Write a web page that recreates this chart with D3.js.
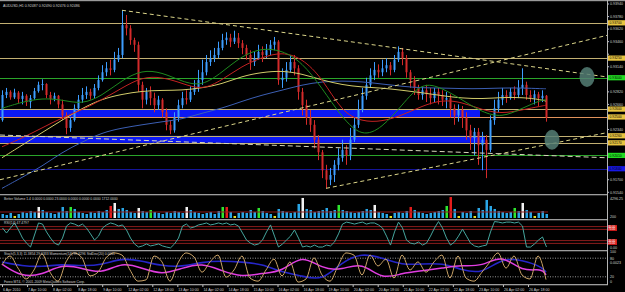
<!DOCTYPE html>
<html lang="en">
<head>
<meta charset="UTF-8">
<title>AUDUSD,H1</title>
<script src="https://d3js.org/d3.v7.min.js"></script>
<style>
  body { margin: 0; background: #000; }
  svg { display: block; font-family: "Liberation Sans", Arial, sans-serif; }
  .lbl { font-size: 3.6px; fill: #cfcfcf; }
  .small { font-size: 3.4px; fill: #cfcfcf; }
  .tag { font-size: 3.4px; fill: #000; }
</style>
</head>
<body>
<svg width="625" height="292"></svg>
<script>
// ---- data ----
const title = "AUDUSD,H1  0.92487 0.92490 0.92476 0.92486";
const firstOpen = 0.9246;
const close = [
  0.9278,0.9282,0.9275,0.9281,0.9273,0.9277,0.9269,0.9274,0.9283,0.9291,
  0.9292,0.9278,0.9273,0.9277,0.9266,0.9252,0.9236,0.9246,0.9261,0.9272,
  0.9278,0.9282,0.9277,0.9287,0.9297,0.9307,0.9312,0.9310,0.9323,0.9329,
  0.9367,0.9363,0.9348,0.9342,0.9291,0.9272,0.9282,0.9274,0.9265,0.9272,
  0.9256,0.9240,0.9233,0.9249,0.9265,0.9274,0.9272,0.9282,0.9287,0.9297,
  0.9307,0.9320,0.9325,0.9329,0.9338,0.9348,0.9351,0.9346,0.9351,0.9344,
  0.9338,0.9329,0.9320,0.9325,0.9333,0.9329,0.9335,0.9342,0.9346,0.9297,
  0.9300,0.9310,0.9320,0.9312,0.9282,0.9265,0.9249,0.9240,0.9221,0.9205,
  0.9182,0.9170,0.9176,0.9189,0.9198,0.9208,0.9201,0.9221,0.9240,0.9259,
  0.9277,0.9291,0.9303,0.9310,0.9307,0.9312,0.9316,0.9310,0.9323,0.9333,
  0.9325,0.9307,0.9297,0.9287,0.9278,0.9284,0.9279,0.9274,0.9282,0.9278,
  0.9272,0.9274,0.9261,0.9252,0.9259,0.9249,0.9233,0.9223,0.9231,0.9214,
  0.9221,0.9208,0.9246,0.9261,0.9272,0.9278,0.9274,0.9282,0.9278,0.9287,
  0.9291,0.9278,0.9274,0.9279,0.9274,0.9277,0.9249
];
const high = [
  0.9284,0.9287,0.9284,0.9286,0.9283,0.9282,0.9279,0.9278,0.9287,0.9295,
  0.9298,0.9293,0.9282,0.9281,0.9278,0.9272,0.9256,0.9250,0.9266,0.9278,
  0.9287,0.9289,0.9286,0.9292,0.9303,0.9316,0.9320,0.9323,0.9333,0.9338,
  0.9386,0.9380,0.9367,0.9351,0.9346,0.9295,0.9287,0.9289,0.9281,0.9277,
  0.9274,0.9261,0.9246,0.9256,0.9272,0.9282,0.9284,0.9289,0.9297,0.9310,
  0.9323,0.9329,0.9335,0.9338,0.9346,0.9356,0.9358,0.9356,0.9360,0.9357,
  0.9348,0.9342,0.9335,0.9333,0.9342,0.9340,0.9343,0.9348,0.9352,0.9348,
  0.9312,0.9320,0.9329,0.9329,0.9316,0.9287,0.9272,0.9259,0.9246,0.9227,
  0.9208,0.9189,0.9185,0.9195,0.9210,0.9221,0.9214,0.9236,0.9249,0.9272,
  0.9287,0.9300,0.9312,0.9320,0.9317,0.9323,0.9325,0.9320,0.9329,0.9340,
  0.9338,0.9329,0.9310,0.9302,0.9291,0.9289,0.9291,0.9287,0.9287,0.9287,
  0.9284,0.9282,0.9279,0.9266,0.9266,0.9264,0.9256,0.9240,0.9236,0.9236,
  0.9231,0.9227,0.9252,0.9272,0.9282,0.9287,0.9284,0.9287,0.9289,0.9297,
  0.9312,0.9295,0.9284,0.9284,0.9282,0.9284,0.9278
];
const low = [
  0.9244,0.9274,0.9272,0.9273,0.9268,0.9266,0.9264,0.9261,0.9272,0.9281,
  0.9284,0.9274,0.9266,0.9270,0.9261,0.9246,0.9228,0.9231,0.9244,0.9259,
  0.9268,0.9273,0.9272,0.9274,0.9284,0.9295,0.9302,0.9303,0.9307,0.9320,
  0.9325,0.9354,0.9342,0.9333,0.9282,0.9261,0.9266,0.9265,0.9256,0.9259,
  0.9249,0.9233,0.9228,0.9230,0.9244,0.9261,0.9266,0.9269,0.9278,0.9282,
  0.9291,0.9303,0.9315,0.9320,0.9325,0.9335,0.9342,0.9339,0.9343,0.9338,
  0.9330,0.9323,0.9310,0.9315,0.9323,0.9320,0.9325,0.9329,0.9335,0.9291,
  0.9287,0.9295,0.9307,0.9303,0.9272,0.9252,0.9240,0.9231,0.9210,0.9195,
  0.9172,0.9159,0.9163,0.9167,0.9182,0.9193,0.9189,0.9195,0.9218,0.9236,
  0.9256,0.9272,0.9287,0.9297,0.9300,0.9302,0.9307,0.9303,0.9307,0.9320,
  0.9316,0.9300,0.9287,0.9278,0.9272,0.9272,0.9269,0.9266,0.9269,0.9266,
  0.9264,0.9261,0.9249,0.9240,0.9244,0.9236,0.9221,0.9208,0.9201,0.9189,
  0.9182,0.9172,0.9205,0.9240,0.9256,0.9265,0.9268,0.9272,0.9272,0.9274,
  0.9278,0.9272,0.9269,0.9266,0.9264,0.9269,0.9244
];

// moving averages, read every 5th bar
const maBars   = [0,5,10,15,20,25,30,35,40,45,50,55,60,65,70,75,80,85,90,95,100,105,110,115,120,125,130,135,136];
const maYellow = [0.9198,0.9214,0.9230,0.9246,0.9261,0.9273,0.9279,0.9283,0.9284,0.9284,0.9287,0.9292,0.9302,0.9307,0.9309,0.9305,0.9297,0.9291,0.9288,0.9287,0.9284,0.9281,0.9277,0.9274,0.9273,0.9275,0.9275,0.9272,0.9270];
const maBlue   = [0.9159,0.9173,0.9187,0.9205,0.9218,0.9230,0.9236,0.9240,0.9244,0.9247,0.9255,0.9261,0.9270,0.9278,0.9284,0.9291,0.9295,0.9296,0.9295,0.9292,0.9289,0.9287,0.9287,0.9286,0.9286,0.9287,0.9287,0.9286,0.9286];
const maGreen  = [0.9261,0.9269,0.9274,0.9272,0.9266,0.9277,0.9297,0.9310,0.9307,0.9295,0.9289,0.9307,0.9328,0.9338,0.9335,0.9320,0.9287,0.9249,0.9224,0.9236,0.9265,0.9295,0.9287,0.9272,0.9256,0.9249,0.9261,0.9272,0.9272];
const maRed    = [0.9212,0.9223,0.9236,0.9249,0.9259,0.9272,0.9287,0.9301,0.9301,0.9293,0.9284,0.9297,0.9315,0.9326,0.9333,0.9325,0.9300,0.9256,0.9244,0.9244,0.9252,0.9264,0.9272,0.9269,0.9259,0.9254,0.9259,0.9264,0.9265];

// drawn objects: trendlines [bar, price] -> [bar, price]
const trendLines = [
  [[30, 0.9386], [151.25, 0.9301]],
  [[-0.5, 0.9170], [151.25, 0.9354]],
  [[81, 0.9159], [151.25, 0.9230]]
];
const flatLine = [[-0.5, 0.9227], [151.25, 0.9198]];
const levelPrices = [0.9370, 0.9325, 0.9300, 0.9260, 0.9250, 0.9226, 0.9217, 0.9201, 0.9184];
const levelKinds  = ["sr", "sr", "pivot", "sr", "bid", "sr", "sr", "pivot", "deep"];
const bands = [[0.9260, 0.9250, 119.5], [0.9226, 0.9217, 120.75]];
const circles = [[146.25, 0.9301], [137.5, 0.9221]];
const priceTicks = [0.9394,0.9378,0.9362,0.9346,0.9330,0.9314,0.9298,0.9282,0.9266,0.9250,0.9234,0.9218,0.9202,0.9186,0.9170,0.9154];
const timeLabels = ["6 Apr 2010","7 Apr 10:00","8 Apr 02:00","8 Apr 18:00","9 Apr 10:00","12 Apr 02:00","12 Apr 18:00","13 Apr 10:00",
  "14 Apr 02:00","14 Apr 18:00","15 Apr 10:00","16 Apr 02:00","16 Apr 18:00","19 Apr 10:00","20 Apr 02:00","20 Apr 18:00",
  "21 Apr 10:00","22 Apr 02:00","22 Apr 18:00","23 Apr 10:00","26 Apr 02:00","26 Apr 18:00"];

// Better Volume
const volText = "Better Volume 1.4 0.0000 0.0000 23.0000 0.0000 0.0000 0.0000 1712.0000";
const volume = [
  820,615,1025,410,820,1230,1025,1435,1230,2255,
  1640,1230,1025,820,1230,2255,1435,2255,1845,1230,
  1025,820,1230,1025,1435,1230,1640,2460,3075,1845,
  2050,1640,1230,1025,2050,1435,1230,1640,1230,1025,
  820,1230,1025,1435,1230,1025,2255,1640,1230,1025,
  820,1025,1230,820,1435,2255,2255,1230,410,1025,
  1230,1025,1640,1230,2050,1435,1025,820,410,1845,
  1435,1230,1025,1230,2870,4100,1845,1640,1230,1435,
  1640,2050,1435,1640,2665,1640,1435,1230,1025,1230,
  1435,1845,1640,2665,1230,1025,820,410,1025,1230,
  1025,1435,2255,1640,1230,1025,820,1025,1230,1435,
  1640,2460,4290,1845,410,1230,1025,1435,410,2050,
  1640,3690,2460,1845,1435,1230,1025,1230,2050,1435,
  3075,1640,1230,410,1025,1435,820
];
const volType = "bbbybbbbbw" + "bbbbbbbgbb" + "bbbbbbbrwb" + "bbbbwbbgbb" + "bbbbbbwbbb" +
  "bbbbbgrbyb" + "bbbbgbbbyb" + "bbbbbwbbbb" + "bbbbgbbbbb" + "bbbwbbbybb" +
  "bbrbbbbbbb" + "bgrbybbbyb" + "bbbbbbbbgb" + "wbbybbb";
const volAverage = 1230;
const volAxis = ["4296.25", "200"];

// RSI
const rsiText = "RSI(14) 47.4797";
const rsi = [
  75,57,75,93,68,39,21,7,50,93,
  89,61,39,21,14,39,82,93,89,82,
  89,75,54,32,46,75,86,93,89,82,
  86,68,39,18,7,11,18,11,14,18,
  11,7,4,18,39,82,89,75,79,86,
  89,93,86,89,93,89,93,86,89,82,
  57,32,21,14,18,32,61,86,46,7,
  18,32,46,68,39,7,11,7,14,7,
  7,14,11,25,54,89,96,93,89,93,
  96,89,93,93,86,75,46,14,61,96,
  75,32,21,18,25,14,21,46,75,98,
  75,39,14,25,46,71,46,21,11,7,
  11,14,61,98,96,93,96,96,93,96,
  82,7,7,18,32,43,7
];
const rsiLevels = [80, 70, 30, 20];

// Stochastic / momentum pane
const stoText = "Stoch(5,3,3) 11.3854 29.6333   Momentum(14) 99.6296   StdDev(20) 0.0011";
const stochMain = [58,87,48,13,42,94,35,6,68,97,81,23,35,81,97,90,42,6,10,87,68,6,65,97,84,35,68,90,19,42,
  87,16,6,42,77,23,68,3,13,81,26,6,55,97,90,26,90,55,77,16,90,42,68,35,68,90,16,87,16,6,35,68,97,48,87,26,13,87,11];
const momentum = [68,55,52,61,55,58,81,71,55,52,68,71,68,61,35,23,6,68,97,81,58,61,65,42,29,81,74,52,35];
const stdDev   = [61,19,26,61,48,29,68,48,26,48,65,39,19,32,35,94,45,42,68,10,32,39,48,58,52,94,35,48,26];
const stoLevels = [80, 20];
const stoAxis = [["100", 100], ["80", 80], ["0.0023", 66], ["20", 20], ["0", 3]];
const copyright = "Forex MT4, \u00a9 2001-2009 MetaQuotes Software Corp.";

// ---- drawing ----
const svg = d3.select("svg");
const plotRight = 607;
const x = d3.scaleLinear().domain([0, 136]).range([2, 546]);
const yPrice = d3.scaleLinear().domain([0.91518, 0.93940]).range([194, 4]);
const yVol = d3.scaleLinear().domain([0, 4296.25]).range([218, 197]);
const yRsi = d3.scaleLinear().domain([0, 100]).range([249, 221]);
const ySto = d3.scaleLinear().domain([0, 100]).range([283, 252]);
const xTime = d3.scalePoint().domain(timeLabels).range([2, 528]);
const fmt5 = d3.format(".5f");

svg.append("rect").attr("width", 625).attr("height", 292).attr("fill", "#000");

const defs = svg.append("defs");
defs.append("clipPath").attr("id", "mainClip")
  .append("rect").attr("x", 0).attr("y", 2).attr("width", plotRight).attr("height", 192);

const main = svg.append("g").attr("clip-path", "url(#mainClip)");

// blue zones
main.selectAll(".band").data(bands).join("rect")
  .attr("x", x(0) - 2)
  .attr("y", d => yPrice(d[0]))
  .attr("width", d => x(d[2]) - x(0) + 2)
  .attr("height", d => yPrice(d[1]) - yPrice(d[0]))
  .attr("fill", "#0c18f5");

// horizontal levels
const levelColor = { sr: "#c2b072", pivot: "#2aa52a", bid: "#e0925c", deep: "#15159a" };
main.selectAll(".level").data(levelPrices).join("line")
  .attr("x1", 0).attr("x2", plotRight)
  .attr("y1", d => Math.round(yPrice(d)) + 0.5)
  .attr("y2", d => Math.round(yPrice(d)) + 0.5)
  .attr("stroke", (d, i) => levelColor[levelKinds[i]])
  .attr("stroke-width", 1);

// candles
const bars = close.map((c, i) => {
  const o = i === 0 ? firstOpen : close[i - 1];
  return { i, c, o, h: Math.max(high[i], c, o), l: Math.min(low[i], c, o) };
});
const candle = main.selectAll(".candle").data(bars).join("g")
  .attr("stroke", d => d.c >= d.o ? "#3d9dff" : "#d42a2a")
  .attr("fill", d => d.c >= d.o ? "#3d9dff" : "#d42a2a");
candle.append("line")
  .attr("x1", d => x(d.i) + 0.5).attr("x2", d => x(d.i) + 0.5)
  .attr("y1", d => yPrice(d.h)).attr("y2", d => yPrice(d.l))
  .attr("stroke-width", 1);
candle.append("rect")
  .attr("x", d => x(d.i) - 0.5).attr("width", 2)
  .attr("y", d => yPrice(Math.max(d.o, d.c)))
  .attr("height", d => Math.max(1, Math.abs(yPrice(d.o) - yPrice(d.c))))
  .attr("stroke", "none");

// moving averages
const maLine = d3.line().x((d, k) => x(maBars[k])).y(d => yPrice(d)).curve(d3.curveBasis);
[[maBlue, "#3c5fb4"], [maYellow, "#d2cc6a"], [maRed, "#c42222"], [maGreen, "#1f8a1f"]].forEach(([s, col]) => {
  main.append("path").datum(s).attr("d", maLine)
    .attr("fill", "none").attr("stroke", col).attr("stroke-width", 1);
});

// trendlines
const tl = d3.line().x(d => x(d[0])).y(d => yPrice(d[1]));
main.selectAll(".trend").data(trendLines).join("path")
  .attr("d", tl).attr("fill", "none")
  .attr("stroke", "#dcd68a").attr("stroke-width", 1).attr("stroke-dasharray", "4,3");
main.append("path").datum(flatLine).attr("d", tl).attr("fill", "none")
  .attr("stroke", "#d8d8bc").attr("stroke-width", 1).attr("stroke-dasharray", "5,3");

// circled spots
main.selectAll(".spot").data(circles).join("ellipse")
  .attr("cx", d => x(d[0])).attr("cy", d => yPrice(d[1]))
  .attr("rx", 7.5).attr("ry", 10)
  .attr("fill", "#557f76").attr("opacity", 0.85);

svg.append("text").attr("class", "lbl").attr("x", 3).attr("y", 6.5).text(title);

// price axis (labels under a level tag are hidden, as in the terminal)
const axisG = svg.append("g");
const freeTicks = priceTicks.filter(p => levelPrices.every(l => Math.abs(yPrice(p) - yPrice(l)) > 4.5));
axisG.selectAll(".pt").data(freeTicks).join("text")
  .attr("class", "lbl").attr("x", 610).attr("y", d => yPrice(d) + 1.3).text(d => fmt5(d));
axisG.selectAll(".ptk").data(priceTicks).join("line")
  .attr("x1", plotRight).attr("x2", plotRight + 2)
  .attr("y1", d => yPrice(d)).attr("y2", d => yPrice(d)).attr("stroke", "#c0c0c0");
const tagColor = { sr: "#e8c440", pivot: "#22dc22", bid: "#e8c440", deep: "#1818e6" };
const tags = axisG.selectAll(".tagg").data(levelPrices).join("g");
tags.append("rect").attr("x", 608).attr("width", 17)
  .attr("y", d => yPrice(d) - 2.6).attr("height", 5.2)
  .attr("fill", (d, i) => tagColor[levelKinds[i]]);
tags.append("text").attr("class", "tag").attr("x", 609.5).attr("y", d => yPrice(d) + 1.2).text(d => fmt5(d));

// ---- Better Volume pane ----
const volColor = { b: "#2aa6e6", g: "#2ee62e", r: "#e41c1c", w: "#f2f2f2", y: "#e6e020" };
svg.append("g").selectAll("rect").data(volume).join("rect")
  .attr("x", (d, i) => x(i) - 0.5).attr("width", 2.5)
  .attr("y", d => yVol(d)).attr("height", d => yVol(0) - yVol(d))
  .attr("fill", (d, i) => volColor[volType[i]]);
svg.append("line").attr("x1", 0).attr("x2", x(136) + 2)
  .attr("y1", yVol(volAverage)).attr("y2", yVol(volAverage))
  .attr("stroke", "#8e1c1c").attr("stroke-width", 1);
svg.append("text").attr("class", "small").attr("x", 4).attr("y", 199.5).text(volText);
svg.append("text").attr("class", "lbl").attr("x", 610).attr("y", 199.5).text(volAxis[0]);
svg.append("text").attr("class", "lbl").attr("x", 610).attr("y", 218).text(volAxis[1]);

// ---- RSI pane ----
svg.append("g").selectAll("line").data(rsiLevels).join("line")
  .attr("x1", 0).attr("x2", plotRight)
  .attr("y1", d => yRsi(d)).attr("y2", d => yRsi(d))
  .attr("stroke", "#8a1c1c").attr("stroke-width", 1);
svg.append("path").datum(rsi)
  .attr("d", d3.line().x((d, i) => x(i) + 0.5).y(d => yRsi(d)))
  .attr("fill", "none").attr("stroke", "#45a69e").attr("stroke-width", 1);
svg.append("text").attr("class", "small").attr("x", 4).attr("y", 224).text(rsiText);
const rsiTag = svg.append("g").selectAll("g").data(rsiLevels).join("g");
rsiTag.append("rect").attr("x", 608).attr("width", 9)
  .attr("y", d => yRsi(d) - 1.5).attr("height", 3).attr("fill", "#d81c1c");
rsiTag.append("text").attr("x", 608.6).attr("y", d => yRsi(d) + 1)
  .attr("font-size", 2.6).attr("fill", "#fff").text(d => d.toFixed(2));
svg.append("text").attr("class", "lbl").attr("x", 610).attr("y", 249).text("0.00");

// ---- Stochastic pane ----
svg.append("g").selectAll("line").data(stoLevels).join("line")
  .attr("x1", 0).attr("x2", plotRight)
  .attr("y1", d => ySto(d)).attr("y2", d => ySto(d))
  .attr("stroke", "#bdbdbd").attr("stroke-width", 0.8).attr("stroke-dasharray", "1,1.5");
svg.append("path").datum(momentum)
  .attr("d", d3.line().x((d, k) => x(maBars[k])).y(d => ySto(d)).curve(d3.curveBasis))
  .attr("fill", "none").attr("stroke", "#2626c8").attr("stroke-width", 1.6);
svg.append("path").datum(stdDev)
  .attr("d", d3.line().x((d, k) => x(maBars[k])).y(d => ySto(d)).curve(d3.curveBasis))
  .attr("fill", "none").attr("stroke", "#e23ee2").attr("stroke-width", 1.5);
svg.append("path").datum(stochMain)
  .attr("d", d3.line().x((d, k) => x(k * 2)).y(d => ySto(d)).curve(d3.curveMonotoneX))
  .attr("fill", "none").attr("stroke", "#c9a266").attr("stroke-width", 1);
svg.append("text").attr("class", "small").attr("x", 4).attr("y", 255).text(stoText);
svg.append("text").attr("class", "small").attr("x", 4).attr("y", 282.6).text(copyright);
svg.append("g").selectAll("text").data(stoAxis).join("text")
  .attr("class", "lbl").attr("x", 610).attr("y", d => ySto(d[1]) + 1.3).text(d => d[0]);

// ---- frame, separators, time axis ----
svg.append("rect").attr("x", 0).attr("y", 0).attr("width", 625).attr("height", 1.2).attr("fill", "#9a9a9a");
[194, 219, 250, 284].forEach(yy => {
  svg.append("rect").attr("x", 0).attr("y", yy).attr("width", plotRight + 1).attr("height", 1.3).attr("fill", "#9c9c9c");
});
svg.append("line").attr("x1", plotRight + 0.5).attr("x2", plotRight + 0.5)
  .attr("y1", 0).attr("y2", 285).attr("stroke", "#b4b4b4");
const tAxis = svg.append("g");
tAxis.selectAll("line").data(timeLabels).join("line")
  .attr("x1", d => xTime(d) + 0.5).attr("x2", d => xTime(d) + 0.5)
  .attr("y1", 285).attr("y2", 287).attr("stroke", "#c0c0c0");
tAxis.selectAll("text").data(timeLabels).join("text")
  .attr("class", "lbl").attr("x", d => xTime(d) + 1).attr("y", 290.5).text(d => d);
</script>
</body>
</html>
